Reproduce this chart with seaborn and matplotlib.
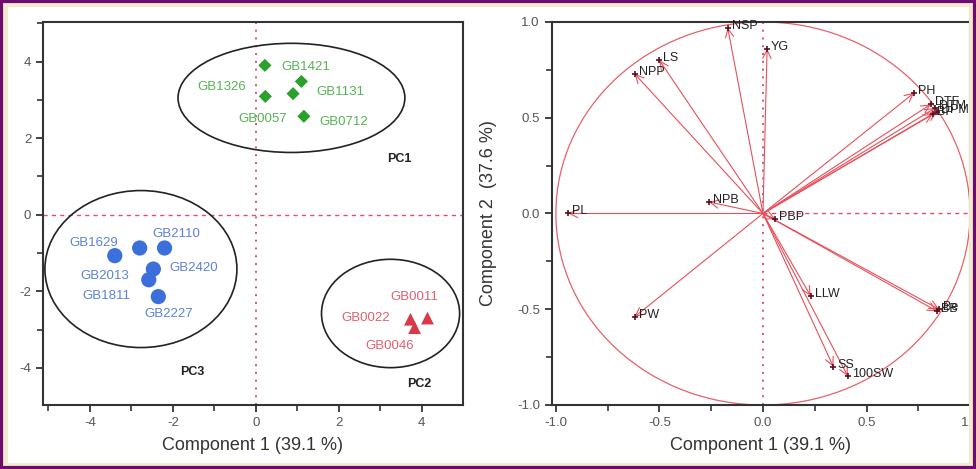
import numpy as np
import pandas as pd
import matplotlib
matplotlib.use("Agg")
import matplotlib.pyplot as plt
import seaborn as sns
from matplotlib.patches import Ellipse, Circle, Rectangle
from matplotlib.ticker import MultipleLocator, FormatStrFormatter

# ---- data: score plot (left) ----
genotypes = ["GB1421", "GB1326", "GB1131", "GB0057", "GB0712",
             "GB1629", "GB2110", "GB2420", "GB2013", "GB1811", "GB2227",
             "GB0011", "GB0022", "GB0046"]
groups = ["PC1"] * 5 + ["PC3"] * 6 + ["PC2"] * 3
score_x = [0.22, 0.23, 1.10, 0.90, 1.16,
           -3.40, -2.20, -2.47, -2.80, -2.58, -2.35,
           4.14, 3.73, 3.83]
score_y = [3.90, 3.09, 3.48, 3.16, 2.57,
           -1.07, -0.87, -1.42, -0.87, -1.70, -2.14,
           -2.70, -2.73, -2.95]

# cluster ellipses: centre x, centre y, width, height
ell_names = ["PC1", "PC3", "PC2"]
ell_cx = [0.86, -2.77, 3.25]
ell_cy = [3.05, -1.42, -2.58]
ell_w = [5.47, 4.63, 3.33]
ell_h = [2.85, 4.10, 2.83]
ell_label_x = [3.47, -1.52, 3.95]
ell_label_y = [1.46, -4.12, -4.42]

# ---- data: loading plot (right) ----
traits = ["NSP", "YG", "LS", "NPP", "PH", "DTF", "DTM", "DPM", "BP",
          "PL", "NPB", "PBP", "LLW", "PW", "SS", "100SW", "BB", "Be"]
load_x = [-0.17, 0.02, -0.50, -0.62, 0.73, 0.81, 0.83, 0.84, 0.82,
          -0.94, -0.26, 0.06, 0.23, -0.62, 0.34, 0.41, 0.84, 0.85]
load_y = [0.97, 0.86, 0.80, 0.73, 0.63, 0.57, 0.55, 0.53, 0.52,
          0.00, 0.06, -0.03, -0.43, -0.54, -0.80, -0.85, -0.51, -0.50]

scores = pd.DataFrame({"name": genotypes, "group": groups, "x": score_x, "y": score_y})
loads = pd.DataFrame({"trait": traits, "x": load_x, "y": load_y})

# label offsets (pixels) relative to each point
lab_dx = [41, -44, 39, -30, 40, -21, 12, 40, -35, -42, 10, -13, -45, -25]
lab_dy = [-2, 9, -11, -25, -6, 13, 14, 1, -28, -16, -17, 21, 1, -18]

sns.set_theme(style="ticks")
plt.rcParams["font.family"] = ["Liberation Sans", "DejaVu Sans"]
plt.rcParams["axes.unicode_minus"] = False

fig = plt.figure(figsize=(9.76, 4.69), dpi=100)
fig.patch.set_facecolor("white")
fig.patches.append(Rectangle((0.004, 0.006), 0.992, 0.988, transform=fig.transFigure,
                             fill=False, edgecolor="#f0ead0", lw=5, zorder=0))
fig.patches.append(Rectangle((0.001, 0.002), 0.998, 0.996, transform=fig.transFigure,
                             fill=False, edgecolor="#6e0b6e", lw=3, zorder=1))

ax1 = fig.add_axes([0.0441, 0.1365, 0.430, 0.8156])
ax2 = fig.add_axes([0.5653, 0.1365, 0.4286, 0.8166])

pal = {"PC1": "#2ca02c", "PC3": "#3b6fdc", "PC2": "#d93a4a"}
txt_col = {"PC1": "#55b455", "PC3": "#5a82d8", "PC2": "#e0606e"}
mk = {"PC1": "D", "PC3": "o", "PC2": "^"}
sizes = {"PC1": 45, "PC3": 120, "PC2": 85}

ax1.axvline(0, color="#e0506a", ls=(0, (1, 3)), lw=1.4, zorder=1)
ax1.axhline(0, color="#e0506a", ls=(0, (3, 3)), lw=1.0, zorder=1)
for g in ["PC1", "PC3", "PC2"]:
    sub = scores[scores["group"] == g]
    sns.scatterplot(data=sub, x="x", y="y", color=pal[g], marker=mk[g], s=sizes[g],
                    edgecolor="none", ax=ax1, zorder=3, legend=False)
for i, row in scores.iterrows():
    ax1.annotate(row["name"], (row["x"], row["y"]), xytext=(lab_dx[i], lab_dy[i]),
                 textcoords="offset pixels", ha="center", va="center",
                 fontsize=9.5, color=txt_col[row["group"]])
for n, cx, cy, w, h, lx, ly in zip(ell_names, ell_cx, ell_cy, ell_w, ell_h, ell_label_x, ell_label_y):
    ax1.add_patch(Ellipse((cx, cy), w, h, fill=False, edgecolor="#222222", lw=1.2, zorder=2))
    ax1.text(lx, ly, n, fontsize=9, fontweight="bold", color="#222222", ha="center", va="center")

ax1.set_xlim(-5.13, 4.99)
ax1.set_ylim(-4.97, 5.02)
ax1.xaxis.set_major_locator(MultipleLocator(2))
ax1.xaxis.set_minor_locator(MultipleLocator(1))
ax1.yaxis.set_major_locator(MultipleLocator(2))
ax1.yaxis.set_minor_locator(MultipleLocator(1))
ax1.set_xlabel("Component 1 (39.1 %)", fontsize=13, color="#333333", labelpad=6)
ax1.set_ylabel("")

# right: loading circle
ax2.add_patch(Circle((0, 0), 1.0, fill=False, edgecolor="#e8606a", lw=0.9, zorder=1))
ax2.axvline(0, color="#e0506a", ls=(0, (1, 3)), lw=1.4, zorder=1)
ax2.plot([0, 1.0], [0, 0], color="#e0506a", ls=(0, (3, 3)), lw=1.0, zorder=1)
for _, row in loads.iterrows():
    ax2.annotate("", xy=(row["x"], row["y"]), xytext=(0, 0),
                 arrowprops=dict(arrowstyle="->", color="#e8505a", lw=0.8,
                                 mutation_scale=15, shrinkA=0, shrinkB=0))
sns.scatterplot(data=loads, x="x", y="y", marker="+", color="#5a1020", s=25,
                linewidth=1.2, ax=ax2, zorder=4, legend=False)
for _, row in loads.iterrows():
    ax2.annotate(row["trait"], (row["x"], row["y"]), xytext=(4, 2),
                 textcoords="offset pixels", ha="left", va="center",
                 fontsize=9, color="#222222")
ax2.set_xlim(-1.02, 1.0)
ax2.set_ylim(-1.0, 1.0)
ax2.xaxis.set_major_locator(MultipleLocator(0.5))
ax2.xaxis.set_minor_locator(MultipleLocator(0.25))
ax2.yaxis.set_major_locator(MultipleLocator(0.5))
ax2.yaxis.set_minor_locator(MultipleLocator(0.25))
ax2.xaxis.set_major_formatter(FormatStrFormatter("%.1f"))
ax2.yaxis.set_major_formatter(FormatStrFormatter("%.1f"))
ax2.set_xlabel("Component 1 (39.1 %)", fontsize=13, color="#333333", labelpad=6)
ax2.set_ylabel("Component 2  (37.6 %)", fontsize=13, color="#333333", labelpad=14)

for ax in (ax1, ax2):
    ax.set_facecolor("white")
    for sp in ax.spines.values():
        sp.set_visible(True)
        sp.set_color("#333333")
        sp.set_linewidth(1.5)
    ax.tick_params(which="major", length=5, width=1.3, color="#333333",
                   labelsize=9.5, labelcolor="#555555", direction="out")
    ax.tick_params(which="minor", length=4, width=1.2, color="#333333", direction="out")
    ax.tick_params(top=False, right=False, which="both")

fig.savefig("out.png", dpi=100)
